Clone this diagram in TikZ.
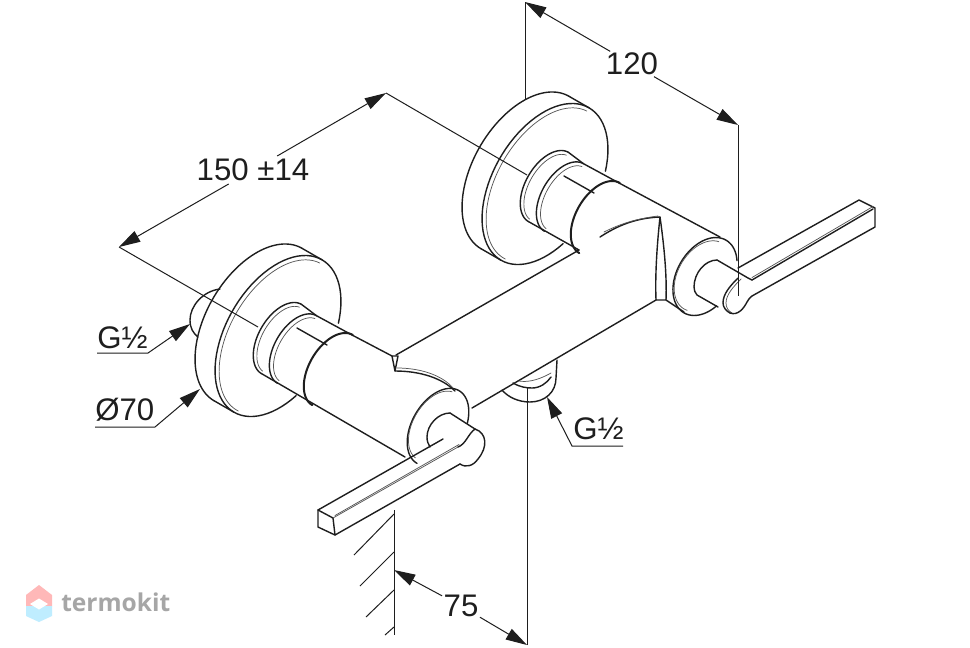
\documentclass[tikz,border=0pt]{standalone}
\usepackage{fontspec}
\setmainfont{Liberation Sans}
\newfontfamily\wmfont{Open Sans}
\usetikzlibrary{arrows.meta}
\definecolor{ink}{HTML}{1E1E1E}
\newcommand\earc[6]{plot[domain=#5:#6,samples=70] ({#1+#3*cos(\x)*0.5+#4*sin(\x)*0.866},{#2-#3*cos(\x)*0.866+#4*sin(\x)*0.5})}
\newcommand\wallflange{%
  \draw[ln] \earc{258}{324.5}{88}{52}{180}{360};
  \draw[ln] (214,400.7) -- (234,412.2);
  \draw[ln] (302,248.3) -- (322,259.8);
  \draw[ln] \earc{278}{336}{88}{52}{119}{422};
  \draw[thinln] \earc{279}{337}{84.5}{49}{178}{358};
  \draw[ln] \earc{281.5}{339}{40}{23}{180}{360};
  \draw[thinln] \earc{282.5}{340}{37}{20.5}{185}{355};
  \draw[ln] \earc{297}{349.5}{39}{22.6}{180}{360};
  \draw[thinln] \earc{298.5}{350.5}{36}{20}{185}{355};
  \draw[ln] (301.5,304.4) -- (316.5,315.7) -- (353,335.5);
  \draw[ln] (297,328) -- (327,345);
  \draw[thickln] \earc{332.5}{370}{40.5}{23.5}{180}{360};
}
\tikzset{
  ln/.style={draw=ink,line width=1.05pt,line cap=round,line join=round},
  thinln/.style={draw=ink!75,line width=0.55pt,line cap=round},
  thickln/.style={draw=ink,line width=1.5pt,line cap=round},
  dimln/.style={draw=ink,line width=0.75pt},
  dimarrow/.style={dimln,-{Stealth[length=16pt,width=9pt,inset=0pt]}},
  dimtext/.style={font=\fontsize{23.4}{25}\selectfont,text=ink,inner sep=1pt},
  wm/.style={font=\wmfont\bfseries\fontsize{18.4}{20}\selectfont,text=black!35,inner sep=0pt}
}
\begin{document}
\begin{tikzpicture}[x=0.75pt,y=-0.75pt]
\useasboundingbox (0,0) rectangle (970,647);
\fill[white] (0,0) rectangle (970,647);
% --- left pipe stub
\draw[ln] (220,289) .. controls (203,291) and (190,306) .. (190,320) .. controls (190,328) and (193,333) .. (198,337);
% --- wall flanges and stems
\wallflange
\begin{scope}[shift={(267,-152)}]
\wallflange
\end{scope}
% --- cylinder edges
\draw[ln] (261.5,373.6) -- (405,457);
\draw[ln] (353,335.5) -- (392,356);
\draw[ln] (528.5,221.6) -- (579,250);
\draw[ln] (620,183.5) -- (720,237);
% --- body
\draw[ln] (579,250) -- (396,355);
\draw[ln] (472,408) -- (656,300);
\draw[ln] (666,300) -- (684,312);
% --- left notch
\draw[ln] (392,356) -- (398,356) -- (395,371) -- cycle;
\draw[ln] (395,371) .. controls (420,371) and (442,378) .. (455,391);
\draw[thinln] (397,368) .. controls (420,368) and (442,375) .. (453,388);
% --- right notch
\draw[ln] (600,237) .. controls (617,226) and (635,218) .. (660,217);
\draw[thinln] (604,232) .. controls (620,224) and (635,219) .. (658,216);
\draw[ln] (660,217) .. controls (657,245) and (655,275) .. (656,300) -- (666,300) .. controls (667,275) and (664,245) .. (660,217);
% --- left handle collar
\draw[ln] \earc{438}{427}{42}{26}{180}{425};
\draw[thinln] \earc{436}{426}{38}{23}{185}{352};
\draw[ln] (450,413) .. controls (438,413) and (427,425) .. (427,437) .. controls (427,441) and (428,444) .. (430,447);
\draw[ln] (450,413) -- (475,429);
% --- left lever
\draw[ln] (443,439) -- (318,510) -- (318,527) -- (335,535) -- (460,464);
\draw[ln] (318,510) -- (333,518) -- (335,535);
\draw[thinln] (333,518) -- (458,447);
\draw[thinln] (335,515.5) -- (459,444.5);
\draw[ln] (475,429) .. controls (468,434) and (466,444) .. (458,447);
\draw[ln] (475,429) .. controls (487,433) and (488,447) .. (478,459) .. controls (473,466) and (466,468) .. (460,464);
% --- right handle collar
\draw[ln] \earc{705}{276.5}{42}{28}{118}{405};
\draw[thinln] \earc{703}{276}{38}{25}{172}{352};
\draw[ln] (717,260) .. controls (705,260) and (694,273) .. (694,287) .. controls (694,290) and (695,293) .. (697,295) -- (718,307);
\draw[ln] (717,260) -- (748,278) -- (752,280);
% --- right lever
\draw[ln] (738,268) -- (859,200) -- (875,208) -- (875,227) -- (752,296);
\draw[ln] (752,280) -- (873,209);
\draw[thinln] (752,277.5) -- (873,206.5);
\draw[ln] (738,278) .. controls (730,286) and (723,294) .. (723,303) .. controls (723,307) and (726,311) .. (730,313);
\draw[thinln] (741,279) .. controls (733,287) and (726,295) .. (726,303) .. controls (726,307) and (728,311) .. (732,313);
\draw[ln] (730,313) .. controls (738,316) and (744,308) .. (747,302) .. controls (749,299) and (750,297) .. (752,296);
% --- bottom fitting
\draw[ln] (502,390) .. controls (508,397) and (518,402) .. (530,402) .. controls (545,402) and (556,392) .. (556,378) -- (557,360);
\draw[ln] (513,383) .. controls (520,387) and (526,388) .. (532,388) .. controls (540,388) and (547,383) .. (551,377);
\draw[thinln] (519,381) .. controls (525,382) and (535,382) .. (551,373);
% --- wall
\coordinate (wt) at (394,510);
\coordinate (wb) at (394,635);
\draw[dimln] (wt) -- (wb);
\draw[dimln] (394,514) -- (354,555);
\draw[dimln] (394,552) -- (360,586);
\draw[dimln] (394,590) -- (366,617);
\draw[dimln] (394,627) -- (385,635);
% --- dimension 120
\coordinate (a1) at (525,2);
\coordinate (a2) at (738,125);
\coordinate (a1e) at (525,100);
\coordinate (a2e) at (738,296);
\node[dimtext] (t120) at (632,64) {120};
\draw[dimln] (a1) -- (a1e);
\draw[dimln] (a2) -- (a2e);
\draw[dimarrow] (t120) -- (a1);
\draw[dimarrow] (t120) -- (a2);
% --- dimension 150
\coordinate (b1) at (119,247);
\coordinate (b2) at (386,93);
\coordinate (b1e) at (258,327);
\coordinate (b2e) at (527,175);
\node[dimtext,inner sep=2pt] (t150) at (253,170) {150 ±14};
\draw[dimln] (b1) -- (b1e);
\draw[dimln] (b2) -- (b2e);
\draw[dimarrow] (t150) -- (b1);
\draw[dimarrow] (t150) -- (b2);
% --- dimension 75
\coordinate (c1) at (394,570);
\coordinate (c2) at (527,645);
\coordinate (c2e) at (527,388);
\node[dimtext] (t75) at (461,606) {75};
\draw[dimln] (c2) -- (c2e);
\draw[dimarrow] (t75) -- (c1);
\draw[dimarrow] (t75) -- (c2);
% --- callouts
\node[dimtext,anchor=south west,inner sep=0pt] (g1) at (97,349) {G½};
\coordinate (g1a) at (97,353);
\coordinate (g1b) at (148,353);
\coordinate (g1c) at (190,324);
\draw[dimarrow] (g1a) -- (g1b) -- (g1c);
\node[dimtext,anchor=south west,inner sep=0pt] (d70) at (95,422) {Ø70};
\coordinate (d1) at (95,427);
\coordinate (d2) at (155,427);
\coordinate (d3) at (200,389);
\draw[dimarrow] (d1) -- (d2) -- (d3);
\node[dimtext,anchor=south west,inner sep=0pt] (g2) at (573,440) {G½};
\coordinate (g2a) at (623,446);
\coordinate (g2b) at (572,446);
\coordinate (g2c) at (547,397);
\draw[dimarrow] (g2a) -- (g2b) -- (g2c);
% --- watermark
\fill[red!28] (26,595) -- (39,585) -- (52,595) -- (52,606) -- (39,606) -- (26,606) -- cycle;
\fill[blue!28!cyan!25] (26,606) -- (39,606) -- (52,606) -- (52,616) -- (39,622) -- (26,616) -- cycle;
\fill[white] (30,604) -- (39,598.5) -- (48,604) -- (39,609.5) -- cycle;
\node[wm,anchor=west] (wmt) at (61,602) {termokit};
\end{tikzpicture}
\end{document}
